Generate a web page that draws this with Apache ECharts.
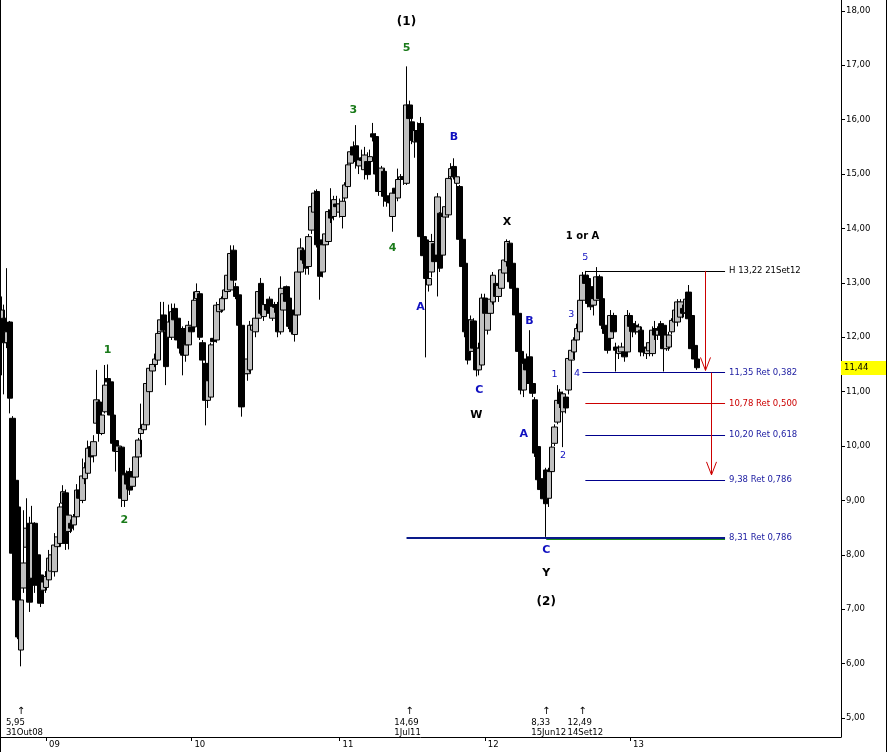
<!DOCTYPE html>
<html><head><meta charset="utf-8">
<script src="https://cdn.jsdelivr.net/npm/echarts@6/dist/echarts.min.js"></script>
<style>html,body{margin:0;padding:0;background:#fff}#c{width:889px;height:752px}</style>
</head><body><div id="c"></div>
<script>
// ---------- DATA ----------
const firstWeek = '2008-09-12';   // weekly candles (Fridays)
const weekCount = 301;            // category slots on the axis (incl. empty space on the right)
const yTicks = [5,6,7,8,9,10,11,12,13,14,15,16,17,18];
const yearLabels = ['09','10','11','12','13'];

// [open, close, low, high]
const candles2008 = [
[12.1,12.5,11.3,12.75],[12.35,11.9,10.95,12.6],[11.9,12.1,11.8,13.27],[12.28,10.88,10.6,12.3],
[10.51,8.03,8.0,10.55],[9.37,7.17,7.1,9.4],[8.88,6.49,6.45,8.9],[6.25,7.17,5.95,7.3],
[7.39,7.85,7.3,8.82],[8.14,8.49,8.05,9.04],[8.58,7.13,6.95,8.7],[7.57,8.58,7.5,8.9],
[8.58,7.44,7.3,8.6],[8.0,7.48,7.3,8.3],[7.63,7.11,7.04,7.9],[7.35,7.5,7.1,7.6]];
const candles2009 = [
[7.4,7.6,7.3,7.7],[7.54,7.94,7.45,8.09],[7.7,8.0,7.6,8.1],[7.69,8.18,7.6,8.4],
[8.15,8.33,8.1,8.4],[8.21,8.88,8.15,8.95],[8.95,9.16,8.9,9.28],[9.14,8.21,8.09,9.2],
[8.43,8.73,8.1,8.8],[8.58,8.49,8.4,8.65],[8.55,8.7,8.45,8.75],[8.7,9.19,8.6,9.3],
[9.19,9.04,8.95,9.25],[9.0,9.45,8.95,9.77],[9.4,9.6,9.3,9.7],[9.5,9.96,9.45,10.1],
[9.99,9.8,9.75,10.05],[9.82,10.08,9.7,10.2],[10.42,10.85,10.3,11.4],[10.81,10.23,10.08,10.85],
[10.23,10.57,10.2,10.6],[10.63,11.12,10.6,11.49],[11.24,11.18,11.1,11.5],[11.18,10.57,10.5,11.2],
[10.57,10.05,9.9,10.6],[10.1,9.9,9.53,10.15],[9.9,10.0,9.8,10.05],[9.98,9.04,8.88,10.0],
[9.0,9.47,8.88,9.5],[9.5,9.3,9.2,9.55],[9.53,9.19,9.1,9.6],[9.26,9.43,9.2,9.5],
[9.43,9.8,9.4,9.85],[9.8,10.11,9.75,10.15],[10.23,10.32,9.85,10.78],[10.3,10.4,10.25,10.5],
[10.39,11.15,10.35,11.2],[11.0,11.43,10.9,11.5],[11.38,11.5,11.24,11.6],[11.5,11.6,11.45,11.7],
[11.58,12.07,11.5,12.3],[12.1,12.32,12.0,12.65],[12.41,12.13,12.0,12.65],[12.1,11.46,11.12,12.15],
[12.0,12.28,11.9,12.6],[12.0,12.47,11.95,12.62],[12.53,12.32,12.2,12.62],[12.35,11.95,11.9,12.4],
[12.1,11.8,11.7,12.16],[12.16,11.67,11.3,12.2],[11.67,11.86,11.55,11.9],[11.86,12.22,11.8,12.3]];
const candles2010 = [
[12.19,12.1,12.0,12.25],[12.19,12.68,12.1,12.84],[12.71,12.84,12.6,12.99],[12.8,12.0,11.95,12.85],
[11.9,11.58,11.5,11.95],[11.52,10.84,10.38,11.6],[10.84,11.2,10.7,11.3],[10.9,11.86,10.85,11.9],
[11.98,11.92,11.85,12.0],[11.95,12.59,11.9,12.65],[12.47,12.6,12.4,12.7],[12.5,12.71,12.45,12.75],
[12.71,12.87,12.65,12.95],[12.84,13.14,12.8,13.2],[12.87,13.54,12.85,13.69],[13.6,13.05,13.0,13.69],
[12.93,12.75,12.7,13.0],[12.78,12.22,12.15,12.85],[12.22,10.72,10.54,12.25],[11.52,11.33,11.2,11.6],
[11.33,11.6,11.2,11.7],[11.4,12.22,11.35,12.3],[12.13,12.22,12.05,12.35],[12.1,12.35,12.0,12.4],
[12.35,12.84,12.3,12.9],[12.99,12.44,12.4,13.09],[12.38,12.6,12.3,12.65],[12.6,12.5,12.4,12.7],
[12.7,12.44,12.4,12.75],[12.35,12.57,12.3,12.6],[12.6,12.55,12.45,12.65],[12.6,12.1,12.0,12.65],
[12.1,12.9,12.05,13.12],[12.5,12.8,12.4,12.9],[12.93,12.66,12.6,12.95],[12.72,12.2,12.15,12.75],
[12.5,12.1,12.05,12.55],[12.05,12.41,11.92,12.45],[12.41,13.2,12.4,13.3],[13.2,13.64,13.1,13.82],
[13.6,13.42,13.35,13.65],[13.48,13.27,13.15,13.5],[13.3,13.85,13.15,13.9],[13.97,14.4,13.9,14.5],
[14.3,14.65,14.2,14.7],[14.68,13.7,13.65,14.72],[13.79,13.12,12.69,13.85],[13.2,13.7,13.1,13.75],
[13.7,13.9,13.6,14.0],[13.76,14.31,13.7,14.35],[14.34,14.19,14.1,14.74],[14.22,14.53,14.15,14.6]];
const candles2011 = [
[14.45,14.4,14.3,14.6],[14.3,14.45,14.2,14.55],[14.22,14.5,14.0,14.7],[14.56,14.8,14.5,14.85],
[14.77,15.17,14.7,15.25],[15.2,15.41,15.1,15.5],[15.5,15.35,15.25,15.6],[15.52,15.23,15.1,15.9],
[15.15,15.26,15.0,15.4],[15.3,15.25,15.1,15.45],[15.08,15.35,14.9,15.5],[15.23,14.99,14.9,15.4],
[15.23,15.32,15.1,15.45],[15.74,15.68,15.6,15.94],[15.69,15.0,14.95,15.75],[15.0,14.68,14.6,15.1],
[14.68,15.11,14.6,15.15],[15.05,14.59,14.4,15.1],[14.6,14.5,14.4,14.65],[14.53,14.47,14.4,14.6],
[14.22,14.65,13.94,14.7],[14.74,14.65,14.6,14.8],[14.56,14.9,14.5,15.1],[14.9,14.95,14.85,15.0],
[14.95,14.9,14.8,15.2],[14.83,16.27,14.8,16.98],[16.27,16.02,15.9,16.35],[15.96,15.62,15.55,16.05],
[15.59,15.8,15.3,15.9],[15.8,15.6,15.5,15.95],[15.93,13.85,13.8,16.05],[13.85,13.5,13.3,14.0],
[13.79,13.08,11.63,13.85],[12.96,13.08,12.84,13.3],[13.2,13.76,13.1,13.9],[13.72,13.39,13.2,13.8],
[13.51,14.58,12.75,14.65],[14.28,13.27,13.2,14.3],[13.51,14.22,13.4,14.3],[14.21,14.4,14.1,14.5],
[14.25,14.92,14.2,15.0],[14.95,15.1,14.9,15.2],[15.14,14.95,14.9,15.29],[14.83,14.95,14.75,15.05],
[14.77,13.8,13.7,14.8],[13.8,13.3,13.2,13.9],[13.36,12.1,12.0,13.4],[12.32,11.58,11.5,12.4],
[11.74,12.32,11.6,12.4],[12.3,11.8,11.7,12.35],[11.8,11.4,11.28,11.85],[11.4,11.8,11.3,11.9]];
const candles2012 = [
[11.49,12.72,11.45,12.8],[12.72,12.44,12.4,12.8],[12.13,12.44,12.05,12.5],[12.44,12.7,12.35,12.8],
[12.65,13.14,12.6,13.2],[12.99,12.75,12.7,13.05],[12.75,12.95,12.65,13.0],[12.9,13.24,12.85,13.3],
[13.18,13.42,13.1,13.5],[13.39,13.76,13.3,13.8],[13.73,13.02,12.95,13.78],[13.36,12.9,12.85,13.4],
[12.9,12.41,12.35,12.95],[12.44,11.74,11.7,12.5],[11.74,11.03,10.95,11.8],[11.03,11.52,10.9,11.6],
[11.6,11.4,11.3,11.7],[11.64,11.15,11.1,12.13],[11.15,10.97,10.9,11.2],[10.85,9.87,9.8,10.9],
[9.99,9.38,9.3,10.1],[9.4,9.2,9.1,9.5],[9.31,9.03,8.95,9.4],[9.56,8.94,8.33,9.6],
[9.04,9.53,8.88,9.6],[9.53,9.98,9.45,10.05],[10.05,10.35,10.0,10.4],[10.44,10.84,10.4,11.12],
[10.99,10.78,10.7,11.05],[10.63,10.96,9.98,11.0],[10.9,10.7,10.6,10.95],[11.03,11.61,10.95,11.65],
[11.58,11.76,11.5,11.85],[11.73,11.95,11.6,12.0],[11.95,12.16,11.9,12.25],[12.1,12.68,12.0,12.75],
[12.68,13.14,12.6,13.2],[13.14,12.99,12.9,13.22],[13.08,12.62,12.55,13.15],[12.93,12.56,12.5,12.96],
[12.59,12.71,12.4,12.8],[12.68,13.11,12.6,13.29],[13.11,12.71,12.65,13.15],[12.71,12.22,12.15,12.75],
[12.22,12.07,12.0,12.3],[12.19,11.76,11.7,12.25],[11.98,12.4,11.9,12.5],[12.4,12.1,12.0,12.45],
[11.82,11.76,11.37,11.9],[11.7,11.8,11.6,11.85],[11.73,11.82,11.65,11.9],[11.73,11.64,11.55,11.8],
[11.73,12.4,11.7,12.5]];
const candles2013 = [
[12.4,12.2,12.1,12.45],[12.25,12.1,12.0,12.3],[12.22,12.1,12.05,12.3],[12.1,12.19,12.0,12.25],
[12.13,11.73,11.65,12.2],[11.82,11.73,11.65,11.9],[11.7,11.8,11.6,11.9],[11.75,11.9,11.65,12.0],
[11.7,12.13,11.65,12.2],[12.16,12.04,11.95,12.3],[12.04,12.13,11.95,12.2],[12.25,12.04,11.9,12.3],
[12.22,11.79,11.37,12.25],[11.79,12.04,11.75,12.1],[11.82,12.04,11.75,12.1],[12.1,12.31,12.05,12.35],
[12.28,12.5,12.2,12.55],[12.28,12.65,12.2,12.7],[12.37,12.65,12.3,12.7],[12.53,12.44,12.35,12.6],
[12.45,12.7,12.4,12.75],[12.83,12.34,12.3,12.96],[12.4,11.79,11.75,12.45],[11.85,11.6,11.5,11.9],
[11.6,11.44,11.4,11.65]];

const lastPrice = 11.44;

// Elliott wave labels: week index, price level, text
const greenLabels = [
  {t:'1', i:38, v:11.76}, {t:'2', i:44, v:8.64}, {t:'3', i:126, v:16.18},
  {t:'4', i:140, v:13.64}, {t:'5', i:145, v:17.32}];
const blueLetters = [
  {t:'B', i:162, v:15.68}, {t:'A', i:150, v:12.56}, {t:'C', i:171, v:11.03},
  {t:'B', i:189, v:12.30}, {t:'A', i:187, v:10.22}, {t:'C', i:195, v:8.09}];
const blackLetters = [
  {t:'X', i:181, v:14.12}, {t:'W', i:170, v:10.57}, {t:'Y', i:195, v:7.67}];
const degreeLabels = [
  {t:'(1)', i:145, v:17.79}, {t:'(2)', i:195, v:7.13}];
const orLabel = [{t:'1 or A', i:208, v:13.86}];
const blueDigits = [
  {t:'1', i:198, v:11.31}, {t:'2', i:201, v:9.82}, {t:'3', i:204, v:12.41},
  {t:'4', i:206, v:11.34}, {t:'5', i:209, v:13.46}];

// Horizontal levels (retracements)
const levels = [
  {v:13.22, text:'H 13,22 21Set12', line:'#000000', txt:'#000000', from:209, w:1},
  {v:11.35, text:'11,35 Ret 0,382', line:'#00008c', txt:'#1a1aa0', from:208, w:1},
  {v:10.78, text:'10,78 Ret 0,500', line:'#cc0000', txt:'#cc0000', from:209, w:1},
  {v:10.20, text:'10,20 Ret 0,618', line:'#00008c', txt:'#1a1aa0', from:209, w:1},
  {v:9.38,  text:'9,38 Ret 0,786',  line:'#00008c', txt:'#1a1aa0', from:209, w:1},
  {v:8.31,  text:'8,31 Ret 0,786',  line:'#0a1a8a', txt:'#1a1aa0', from:145, w:2}];
const levelEnd = 259;
const greenUnder = {v:8.285, from:195};

// Red projection arrows: week index, start price, tip price
const arrows = [[252, 13.22, 11.39], [254, 11.35, 9.47]];

// Pivot notes at the bottom
const pivotNotes = [
  {i:7, price:'5,95', date:'31Out08'},
  {i:146, price:'14,69', date:'1Jul11'},
  {i:195, price:'8,33', date:'15Jun12'},
  {i:208, price:'12,49', date:'14Set12'}];
const noteArrowLevel = 5.13;
const noteTextLevel = 5.0;

// ---------- BUILD ----------
const FONT = 'DejaVu Sans';
const categories = [];
(function(){
  const p = firstWeek.split('-').map(Number);
  const t0 = Date.UTC(p[0], p[1]-1, p[2]);
  for (let k = 0; k < weekCount; k++) categories.push(new Date(t0 + k*7*86400000).toISOString().slice(0,10));
})();
const candles = [].concat(candles2008, candles2009, candles2010, candles2011, candles2012, candles2013);
const isYearStart = (i) => i > 0 && categories[i].slice(0,4) !== categories[i-1].slice(0,4)
  && yearLabels.indexOf(categories[i].slice(2,4)) >= 0;
const fmt = (v) => v.toFixed(2).replace('.', ',');

function labelSeries(items, color, size, weight){
  return {
    type:'scatter', symbolSize:0, silent:true, z:6, animation:false,
    itemStyle:{opacity:0},
    data: items.map(d => ({value:[d.i, d.v], name:d.t})),
    label:{show:true, position:[0,0], align:'center', verticalAlign:'middle',
      formatter:(p)=>p.name, color:color, textBorderWidth:0, opacity:1,
      fontSize:size, fontWeight:weight, fontFamily:FONT}
  };
}

const chart = echarts.init(document.getElementById('c'), null, {renderer:'canvas'});
const markLines = levels.map(l => [
  {coord:[l.from, l.v], lineStyle:{color:l.line, width:l.w, type:'solid'},
   label:{show:true, position:'end', distance:4, formatter:l.text, color:l.txt,
     fontSize:8.5, fontFamily:FONT}},
  {coord:[levelEnd, l.v]}
]);
markLines.push([
  {coord:[greenUnder.from, greenUnder.v], lineStyle:{color:'#1a8a1a', width:1, type:'solid'}, label:{show:false}},
  {coord:[levelEnd, greenUnder.v]}
]);

chart.setOption({
  animation:false,
  backgroundColor:'#ffffff',
  grid:{left:0, right:48, top:0, bottom:15, containLabel:false, outerBoundsMode:'none'},
  xAxis:{
    type:'category', data:categories, boundaryGap:true,
    axisLine:{show:true, lineStyle:{color:'#000', width:1}},
    axisTick:{show:true, alignWithLabel:true, length:4, interval:(i)=>isYearStart(i), lineStyle:{color:'#000'}},
    axisLabel:{show:true, interval:(i)=>isYearStart(i), formatter:(v)=>v.slice(2,4),
      align:'left', padding:[0,0,0,3], margin:3, color:'#000', fontSize:8.5, fontFamily:FONT},
    splitLine:{show:false}
  },
  yAxis:{
    type:'value', position:'right', min:4.651, max:18.2, scale:true,
    axisLine:{show:true, lineStyle:{color:'#000', width:1}},
    axisTick:{show:true, inside:false, length:4, customValues:yTicks, lineStyle:{color:'#000'}},
    axisLabel:{show:true, customValues:yTicks, formatter:(v)=>fmt(v), margin:5,
      color:'#000', fontSize:8.5, fontFamily:FONT},
    splitLine:{show:false}
  },
  series:[
    {
      type:'candlestick', data:candles, barWidth:6, z:3,
      itemStyle:{color:'#c0c0c0', color0:'#000000', borderColor:'#000000', borderColor0:'#000000', borderWidth:1},
      emphasis:{disabled:true},
      markLine:{silent:true, symbol:['none','none'], animation:false, precision:2, data:markLines}
    },
    {
      type:'custom', z:7, silent:true, data:arrows,
      renderItem:(params, api) => {
        const a = api.coord([api.value(0), api.value(1)]);
        const b = api.coord([api.value(0), api.value(2)]);
        const x = Math.round(a[0]) + 0.5;
        return {type:'group', children:[
          {type:'line', shape:{x1:x, y1:a[1], x2:x, y2:b[1]}, style:{stroke:'#cc0000', lineWidth:1}},
          {type:'polyline', shape:{points:[[x-5, b[1]-13],[x, b[1]],[x+5, b[1]-13]]}, style:{stroke:'#cc0000', fill:null, lineWidth:1}}
        ]};
      }
    },
    labelSeries(greenLabels, '#1a7a1a', 11, 'bold'),
    labelSeries(blueLetters, '#1010c0', 11, 'bold'),
    labelSeries(blackLetters, '#000000', 11, 'bold'),
    labelSeries(degreeLabels, '#000000', 12, 'bold'),
    labelSeries(orLabel, '#000000', 10, 'bold'),
    labelSeries(blueDigits, '#1010c0', 9.5, 'normal'),
    {
      type:'scatter', symbolSize:0, silent:true, z:6, itemStyle:{opacity:0},
      data: pivotNotes.map(n => ({value:[n.i, noteArrowLevel], name:'↑'})),
      label:{show:true, position:[0,0], align:'center', verticalAlign:'middle', formatter:(p)=>p.name,
        color:'#000', textBorderWidth:0, opacity:1, fontSize:10, fontFamily:FONT}
    },
    {
      type:'scatter', symbolSize:0, silent:true, z:6, itemStyle:{opacity:0},
      data: pivotNotes.map(n => ({value:[n.i, noteTextLevel], name:n.price + '\n' + n.date})),
      label:{show:true, position:[-15,0], align:'left', verticalAlign:'top',
        lineHeight:10, color:'#000', textBorderWidth:0, opacity:1, fontSize:8.5, fontFamily:FONT,
        formatter:(p)=>p.name}
    }
  ]
});

// last price tag + frame
const yLast = chart.convertToPixel({yAxisIndex:0}, lastPrice);
chart.setOption({
  graphic:[
    {type:'rect', shape:{x:841, y:Math.round(yLast)-7, width:46, height:14}, style:{fill:'#ffff00'}, z:10},
    {type:'text', x:844, y:Math.round(yLast), style:{text:fmt(lastPrice), fill:'#000', font:'8.5px "DejaVu Sans"', verticalAlign:'middle'}, z:11},
    {type:'line', shape:{x1:0.5, y1:0, x2:0.5, y2:752}, style:{stroke:'#000', lineWidth:1}, z:10},
    {type:'line', shape:{x1:886.5, y1:0, x2:886.5, y2:752}, style:{stroke:'#000', lineWidth:1}, z:10}
  ]
});
</script>
</body></html>
